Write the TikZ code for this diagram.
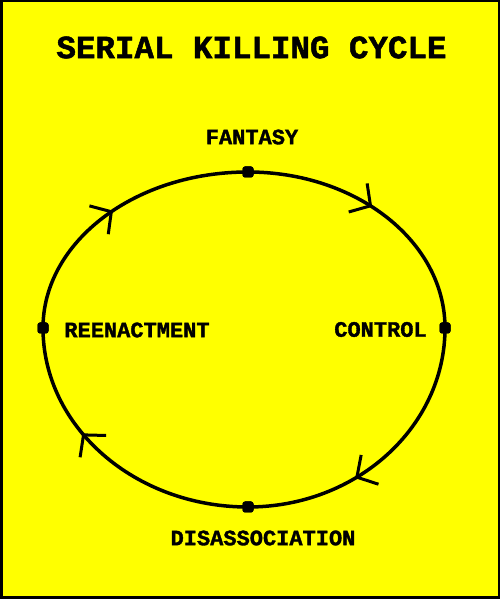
\documentclass[tikz,border=0pt]{standalone}
\usepackage{fontspec}
\setmainfont{Liberation Mono}[BoldFeatures={FakeBold=1.5}]
\usetikzlibrary{arrows.meta,decorations.markings}
\definecolor{bgyellow}{RGB}{255,255,0}
\tikzset{
  dotnode/.style={rectangle,fill=black,minimum size=11pt,inner sep=0pt,rounded corners=2.5pt},
  lbl/.style={inner sep=0pt,font=\fontsize{22}{22}\selectfont\bfseries},
  cyc/.style={line width=3.5pt,postaction={decorate},
    decoration={markings,mark=at position #1 with {\arrow[line width=3pt]{Straight Barb[length=15pt,width=34pt]}}}}
}
\begin{document}
\begin{tikzpicture}[x=1pt,y=1pt]
\fill[bgyellow] (0,0) rectangle (500,599);
\draw[line width=2.5pt] (1.25,1.25) rectangle (498.75,597.75);
\useasboundingbox (0,0) rectangle (500,599);
\node[inner sep=0pt,font=\fontsize{32.5}{32.5}\selectfont\bfseries] (title) at (251.5,551.5) {SERIAL KILLING CYCLE};
% dots
\node[dotnode] (top) at (248,427) {};
\node[dotnode] (right) at (445,271) {};
\node[dotnode] (bottom) at (248,92) {};
\node[dotnode] (left) at (43,271) {};
% arcs
\draw[cyc=0.47] (top.center) arc[start angle=90,end angle=0,x radius=197,y radius=156];
\draw[cyc=0.62] (right.center) arc[start angle=0,end angle=-90,x radius=197,y radius=179];
\draw[cyc=0.62] (bottom.center) arc[start angle=270,end angle=180,x radius=205,y radius=179];
\draw[cyc=0.5] (left.center) arc[start angle=180,end angle=90,x radius=205,y radius=156];
\node[dotnode] at (top) {};
\node[dotnode] at (right) {};
\node[dotnode] at (bottom) {};
\node[dotnode] at (left) {};
% labels
\node[lbl] (fantasy) at (252,462) {FANTASY};
\node[lbl] (reen) at (137,269) {REENACTMENT};
\node[lbl] (control) at (380.5,269.5) {CONTROL};
\node[lbl] (disas) at (263,61) {DISASSOCIATION};
\end{tikzpicture}
\end{document}
